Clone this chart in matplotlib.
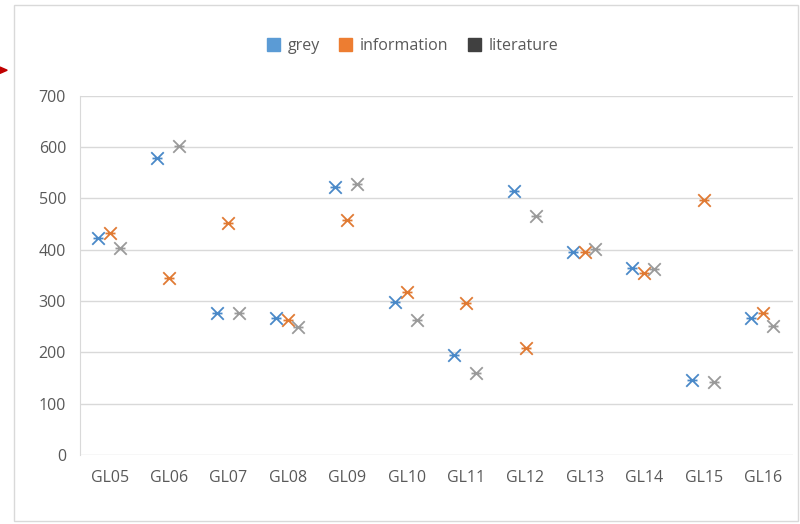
import matplotlib
matplotlib.use("Agg")
import matplotlib.pyplot as plt
from matplotlib.path import Path
from matplotlib.patches import Patch, Rectangle, Polygon
import numpy as np

categories = ["GL05", "GL06", "GL07", "GL08", "GL09", "GL10",
              "GL11", "GL12", "GL13", "GL14", "GL15", "GL16"]
grey = [423, 579, 276, 266, 522, 299, 195, 515, 395, 364, 146, 266]
information = [433, 344, 452, 263, 457, 318, 297, 208, 395, 354, 497, 277]
literature = [404, 602, 276, 250, 528, 263, 160, 466, 401, 362, 143, 251]

plt.rcParams["font.family"] = ["Open Sans", "DejaVu Sans"]

# Excel-style star marker: an x with a short horizontal bar
star = Path([(-1, -1), (1, 1), (-1, 1), (1, -1), (-0.8, 0), (0.8, 0)],
            [Path.MOVETO, Path.LINETO, Path.MOVETO, Path.LINETO,
             Path.MOVETO, Path.LINETO])

fig = plt.figure(figsize=(8, 5.24), dpi=100)
ax = fig.add_axes([0.1, 0.132, 0.891, 0.685])

x = np.arange(len(categories))
series = [
    ("grey", grey, "#4A89C8", -0.2, "#5B9BD5"),
    ("information", information, "#E07A33", 0.0, "#ED7D31"),
    ("literature", literature, "#9A9A9A", 0.17, "#404040"),
]
handles = []
for name, vals, col, off, swatch in series:
    ax.plot(x + off, vals, linestyle="none", marker=star, markersize=9,
            markeredgewidth=1.3, color=col)
    handles.append(Patch(facecolor=swatch, edgecolor=swatch, label=name))

ax.set_xlim(-0.5, len(categories) - 0.5)
ax.set_ylim(0, 700)
ax.set_yticks(range(0, 701, 100))
ax.set_xticks(x)
ax.set_xticklabels(categories)
ax.grid(axis="y", color="#D9D9D9", linewidth=1)
ax.set_axisbelow(True)
for s in ["top", "right", "bottom"]:
    ax.spines[s].set_visible(False)
ax.spines["left"].set_color("#D9D9D9")
ax.tick_params(length=0, colors="#595959", labelsize=11.5, pad=11)
ax.tick_params(axis="y", pad=10)

fig.legend(handles=handles, loc="center", bbox_to_anchor=(0.516, 0.912),
           ncol=3, frameon=False, fontsize=11.5, handlelength=0.8,
           handleheight=0.8, handletextpad=0.5, columnspacing=1.2,
           labelcolor="#595959")

# chart frame and the stray arrow tip at the left edge
fig.patches.append(Rectangle((0.018, 0.006), 0.98, 0.985, transform=fig.transFigure,
                             fill=False, edgecolor="#D9D9D9", linewidth=1))
fig.patches.append(Polygon([(0.0, 0.872), (0.009, 0.866), (0.0, 0.860)],
                           transform=fig.transFigure, color="#C00000"))

fig.savefig("out.png", dpi=100)
